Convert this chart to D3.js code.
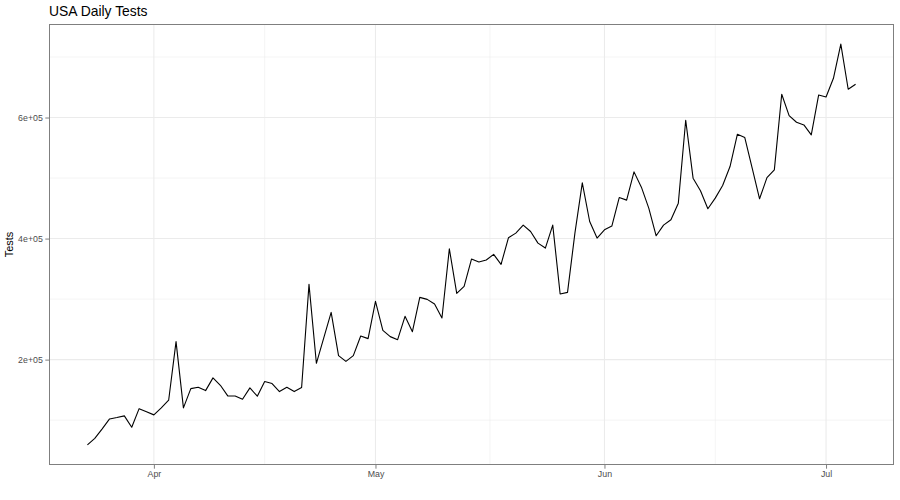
<!DOCTYPE html>
<html>
<head>
<meta charset="utf-8">
<script src="https://cdn.jsdelivr.net/npm/d3@7"></script>
<style>
  html, body { margin: 0; padding: 0; background: #fff; }
  svg { display: block; font-family: "Liberation Sans", Arial, Helvetica, sans-serif; }
</style>
</head>
<body>
<svg id="chart" width="900" height="500"></svg>
<script>
// ---- data ----
const startDate = "2020-03-23";
const tests = [
  59000, 70000, 85600, 102000, 104300, 107000, 88300, 119000, 113700,
  108700, 120300, 132900, 229700, 120300, 152100, 154300, 148800, 169800, 157600,
  140100, 140000, 134500, 153300, 139500, 163700, 160400, 147200, 154300, 147200,
  153800, 324300, 193900, 235800, 278000, 206600, 197200, 206600, 239100, 234700,
  296200, 248400, 238000, 233000, 271500, 246200, 302800, 299500, 291900, 268800,
  383200, 309400, 321000, 366200, 361200, 364500, 373800, 357300, 401300, 409000,
  422200, 411700, 392500, 384300, 422200, 308400, 311100, 409000, 492000, 428200,
  400800, 414500, 420600, 467800, 463500, 510200, 484900, 450300, 404600, 422200,
  431000, 458500, 595500, 499800, 478900, 449200, 466800, 487600, 519000, 572400,
  566800, 516300, 465700, 500800, 513500, 638400, 603100, 592200, 587800, 571300,
  637300, 634000, 664800, 721400, 646700, 654900
];
const xTickDates = ["2020-04-01", "2020-05-01", "2020-06-01", "2020-07-01"];
const xTickLabels = ["Apr", "May", "Jun", "Jul"];
const xMinorDates = ["2020-04-16", "2020-05-16T12:00", "2020-06-16"];
const yTicks = [200000, 400000, 600000];
const yTickLabels = ["2e+05", "4e+05", "6e+05"];
const yMinor = [100000, 300000, 500000, 700000];
const titleText = "USA Daily Tests";
const yTitle = "Tests";

// ---- build ----
const parse = s => new Date(s.length > 10 ? s : s + "T00:00");
const t0 = parse(startDate);
const DAY = 864e5;
const data = tests.map((v, i) => ({ date: new Date(t0.getTime() + i * DAY), value: v }));

const panel = { left: 49, right: 894, top: 24, bottom: 465 };

const xExt = d3.extent(data, d => d.date);
const xPad = (xExt[1] - xExt[0]) * 0.05;
const x = d3.scaleTime()
  .domain([new Date(+xExt[0] - xPad), new Date(+xExt[1] + xPad)])
  .range([panel.left, panel.right]);

const yExt = d3.extent(data, d => d.value);
const yPad = (yExt[1] - yExt[0]) * 0.05;
const y = d3.scaleLinear()
  .domain([yExt[0] - yPad, yExt[1] + yPad])
  .range([panel.bottom, panel.top]);

const svg = d3.select("#chart");
svg.append("rect").attr("width", 900).attr("height", 500).attr("fill", "#fff");

// grid
const grid = svg.append("g");
grid.selectAll(".ymin").data(yMinor).join("line")
  .attr("x1", panel.left).attr("x2", panel.right)
  .attr("y1", d => y(d)).attr("y2", d => y(d))
  .attr("stroke", "#EBEBEB").attr("stroke-width", 0.55);
grid.selectAll(".xmin").data(xMinorDates.map(parse)).join("line")
  .attr("y1", panel.top).attr("y2", panel.bottom)
  .attr("x1", d => x(d)).attr("x2", d => x(d))
  .attr("stroke", "#EBEBEB").attr("stroke-width", 0.55);
grid.selectAll(".ymaj").data(yTicks).join("line")
  .attr("x1", panel.left).attr("x2", panel.right)
  .attr("y1", d => y(d)).attr("y2", d => y(d))
  .attr("stroke", "#EBEBEB").attr("stroke-width", 1.07);
grid.selectAll(".xmaj").data(xTickDates.map(parse)).join("line")
  .attr("y1", panel.top).attr("y2", panel.bottom)
  .attr("x1", d => x(d)).attr("x2", d => x(d))
  .attr("stroke", "#EBEBEB").attr("stroke-width", 1.07);

// line
const line = d3.line().x(d => x(d.date)).y(d => y(d.value));
svg.append("path").datum(data)
  .attr("d", line)
  .attr("fill", "none")
  .attr("stroke", "#000")
  .attr("stroke-width", 1.1)
  .attr("stroke-linejoin", "round");

// panel border
svg.append("rect")
  .attr("x", panel.left + 0.5).attr("y", panel.top + 0.5)
  .attr("width", panel.right - panel.left - 1).attr("height", panel.bottom - panel.top - 1)
  .attr("fill", "none").attr("stroke", "#7F7F7F").attr("stroke-width", 1);

// axes
const xAxis = d3.axisBottom(x)
  .tickValues(xTickDates.map(parse))
  .tickFormat((d, i) => xTickLabels[i])
  .tickSize(3.7).tickPadding(2.5);
const gx = svg.append("g").attr("transform", `translate(0,${panel.bottom})`).call(xAxis);
gx.select(".domain").remove();
gx.selectAll(".tick line").attr("stroke", "#7F7F7F").attr("stroke-width", 1);
gx.selectAll(".tick text").attr("fill", "#4D4D4D").style("font-size", "8.8px");

const yAxis = d3.axisLeft(y)
  .tickValues(yTicks)
  .tickFormat((d, i) => yTickLabels[i])
  .tickSize(3.7).tickPadding(2.5);
const gy = svg.append("g").attr("transform", `translate(${panel.left},0)`).call(yAxis);
gy.select(".domain").remove();
gy.selectAll(".tick line").attr("stroke", "#7F7F7F").attr("stroke-width", 1);
gy.selectAll(".tick text").attr("fill", "#4D4D4D").style("font-size", "8.8px");

// titles
svg.append("text")
  .attr("x", panel.left).attr("y", 16)
  .attr("fill", "#000")
  .style("font-size", "13.9px")
  .text(titleText);

svg.append("text")
  .attr("transform", `translate(13,${(panel.top + panel.bottom) / 2}) rotate(-90)`)
  .attr("text-anchor", "middle")
  .attr("fill", "#000")
  .style("font-size", "11px")
  .text(yTitle);
</script>
</body>
</html>
